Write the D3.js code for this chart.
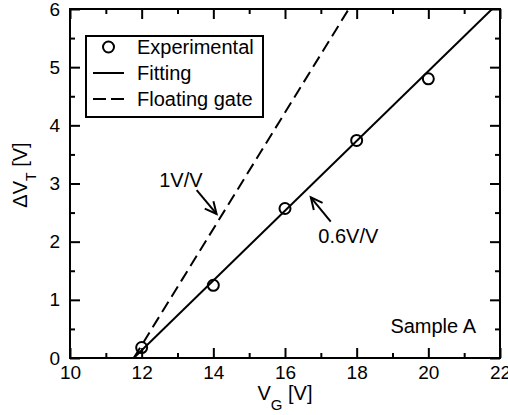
<!DOCTYPE html>
<html>
<head>
<meta charset="utf-8">
<script src="https://cdn.jsdelivr.net/npm/d3@7"></script>
<style>
  html, body { margin: 0; padding: 0; background: #fff; }
  svg { display: block; }
  text { font-family: "Liberation Sans", Arial, Helvetica, sans-serif; fill: #000; }
</style>
</head>
<body>
<svg id="chart" width="508" height="415"></svg>
<script>
// ---- data ----
const vgExp = [12, 14, 16, 18, 20];
const dvtExp = [0.18, 1.25, 2.57, 3.74, 4.80];
const fitVG = [11.78, 21.78];
const fitDVT = [0, 6];
const floatVG = [11.78, 17.78];
const floatDVT = [0, 6];
const xTicks = [10, 12, 14, 16, 18, 20, 22];
const yTicks = [0, 1, 2, 3, 4, 5, 6];
const xMinor = [11, 13, 15, 17, 19, 21];
const yMinor = [0.5, 1.5, 2.5, 3.5, 4.5, 5.5];
const legendLabels = ["Experimental", "Fitting", "Floating gate"];
const annoText = ["1V/V", "0.6V/V"];
const annoTextPos = [[12.49, 2.945], [16.93, 1.982]];
const annoTail = [[13.535, 2.888], [17.276, 2.343]];
const annoTip = [[14.09, 2.476], [16.72, 2.763]];
const sampleLabel = "Sample A";
const samplePos = [21.33, 0.43];

// ---- layout ----
const L = 70, R = 500, T = 9, B = 358;
const svg = d3.select("#chart");
const x = d3.scaleLinear().domain([10, 22]).range([L, R]);
const y = d3.scaleLinear().domain([0, 6]).range([B, T]);

svg.append("defs").append("clipPath").attr("id", "clip")
  .append("rect").attr("x", L).attr("y", T).attr("width", R - L).attr("height", B - T);

function styleAxis(g, fs) {
  g.select(".domain").remove();
  g.selectAll(".tick line").attr("stroke", "#000").attr("stroke-width", 2);
  g.selectAll(".tick text").attr("font-size", fs).attr("fill", "#000")
    .attr("font-family", '"Liberation Sans", Arial, sans-serif');
}

// bottom
svg.append("g").attr("transform", `translate(0,${B})`)
  .call(d3.axisBottom(x).tickValues(xTicks).tickSize(-10).tickPadding(8).tickFormat(d3.format("d")))
  .call(g => styleAxis(g, 19));
svg.append("g").attr("transform", `translate(0,${B})`)
  .call(d3.axisBottom(x).tickValues(xMinor).tickSize(-5).tickFormat(""))
  .call(g => styleAxis(g, 19));
// top
svg.append("g").attr("transform", `translate(0,${T})`)
  .call(d3.axisTop(x).tickValues(xTicks).tickSize(-10).tickFormat(""))
  .call(g => styleAxis(g, 19));
svg.append("g").attr("transform", `translate(0,${T})`)
  .call(d3.axisTop(x).tickValues(xMinor).tickSize(-5).tickFormat(""))
  .call(g => styleAxis(g, 19));
// left
svg.append("g").attr("transform", `translate(${L},0)`)
  .call(d3.axisLeft(y).tickValues(yTicks).tickSize(-10).tickPadding(10).tickFormat(d3.format("d")))
  .call(g => styleAxis(g, 19));
svg.append("g").attr("transform", `translate(${L},0)`)
  .call(d3.axisLeft(y).tickValues(yMinor).tickSize(-5).tickFormat(""))
  .call(g => styleAxis(g, 19));
// right
svg.append("g").attr("transform", `translate(${R},0)`)
  .call(d3.axisRight(y).tickValues(yTicks).tickSize(-10).tickFormat(""))
  .call(g => styleAxis(g, 19));
svg.append("g").attr("transform", `translate(${R},0)`)
  .call(d3.axisRight(y).tickValues(yMinor).tickSize(-5).tickFormat(""))
  .call(g => styleAxis(g, 19));

// frame
svg.append("rect").attr("x", L).attr("y", T).attr("width", R - L).attr("height", B - T)
  .attr("fill", "none").attr("stroke", "#000").attr("stroke-width", 2);

// lines
const line = d3.line().x(d => x(d[0])).y(d => y(d[1]));
const plot = svg.append("g").attr("clip-path", "url(#clip)");
plot.append("path").datum(d3.zip(fitVG, fitDVT)).attr("d", line)
  .attr("fill", "none").attr("stroke", "#000").attr("stroke-width", 2);
plot.append("path").datum(d3.zip(floatVG, floatDVT)).attr("d", line)
  .attr("fill", "none").attr("stroke", "#000").attr("stroke-width", 2)
  .attr("stroke-dasharray", "12,6");

// points
svg.append("g").selectAll("circle").data(d3.zip(vgExp, dvtExp)).join("circle")
  .attr("cx", d => x(d[0])).attr("cy", d => y(d[1])).attr("r", 5.5)
  .attr("fill", "none").attr("stroke", "#000").attr("stroke-width", 2);

// legend
const lg = svg.append("g");
lg.append("rect").attr("x", 86).attr("y", 36).attr("width", 177).attr("height", 81)
  .attr("fill", "#fff").attr("stroke", "#000").attr("stroke-width", 2);
const rowY = [47, 73, 99];
lg.append("circle").attr("cx", 108.5).attr("cy", rowY[0]).attr("r", 5.5)
  .attr("fill", "none").attr("stroke", "#000").attr("stroke-width", 2);
lg.append("line").attr("x1", 93).attr("x2", 124).attr("y1", rowY[1]).attr("y2", rowY[1])
  .attr("stroke", "#000").attr("stroke-width", 2);
lg.append("line").attr("x1", 93).attr("x2", 124).attr("y1", rowY[2]).attr("y2", rowY[2])
  .attr("stroke", "#000").attr("stroke-width", 2).attr("stroke-dasharray", "13,5");
lg.selectAll("text.lab").data(legendLabels).join("text").attr("class", "lab")
  .attr("x", 137).attr("y", (d, i) => rowY[i] + 7).attr("font-size", 20).text(d => d);

// annotations
svg.selectAll("text.anno").data(annoText).join("text").attr("class", "anno")
  .attr("x", (d, i) => x(annoTextPos[i][0])).attr("y", (d, i) => y(annoTextPos[i][1]))
  .attr("font-size", 20).text(d => d);
annoTip.forEach((tip, i) => {
  const tail = annoTail[i];
  const tx = x(tip[0]), ty = y(tip[1]), sx = x(tail[0]), sy = y(tail[1]);
  const ang = Math.atan2(ty - sy, tx - sx);
  const hl = 13, ha = 0.45;
  svg.append("line").attr("x1", sx).attr("y1", sy).attr("x2", tx).attr("y2", ty)
    .attr("stroke", "#000").attr("stroke-width", 2);
  const p = [[tx - hl * Math.cos(ang - ha), ty - hl * Math.sin(ang - ha)], [tx, ty],
             [tx - hl * Math.cos(ang + ha), ty - hl * Math.sin(ang + ha)]];
  svg.append("path").attr("d", d3.line()(p)).attr("fill", "none")
    .attr("stroke", "#000").attr("stroke-width", 2);
});
svg.append("text").attr("x", x(samplePos[0])).attr("y", y(samplePos[1]))
  .attr("text-anchor", "end").attr("font-size", 20).text(sampleLabel);

// axis titles
const xt = svg.append("text").attr("x", x(16)).attr("y", 400).attr("text-anchor", "middle").attr("font-size", 20);
xt.append("tspan").text("V");
xt.append("tspan").attr("font-size", 15).attr("dy", 10).text("G");
xt.append("tspan").attr("dy", -10).text(" [V]");

const yt = svg.append("text").attr("transform", `translate(27,175) rotate(-90)`)
  .attr("text-anchor", "middle").attr("font-size", 20);
yt.append("tspan").text("ΔV");
yt.append("tspan").attr("font-size", 14).attr("dy", 9).text("T");
yt.append("tspan").attr("dy", -9).text(" [V]");
</script>
</body>
</html>
